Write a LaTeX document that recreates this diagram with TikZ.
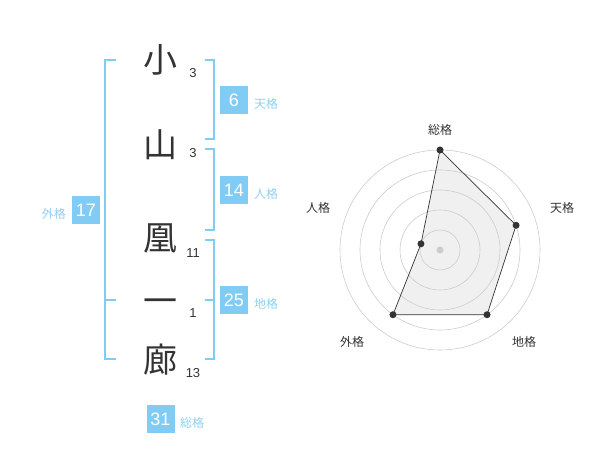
\documentclass[tikz,border=0pt]{standalone}
\usepackage{fontspec}
\setmainfont{Liberation Sans}
\newfontfamily\cjk{Noto Sans CJK JP}
\definecolor{brk}{HTML}{80CCF5}
\definecolor{lbl}{HTML}{8ED0F2}
\definecolor{ink}{HTML}{333333}
\definecolor{ring}{HTML}{CCCCCC}
\definecolor{area}{HTML}{F0F0F0}
\tikzset{
  kanji/.style={inner sep=0pt, text=ink, font=\fontsize{34}{34}\selectfont\cjk},
  strk/.style={inner sep=0pt, text=ink, font=\fontsize{13}{13}\selectfont},
  bracket/.style={draw=brk, line width=1.6pt},
  valbox/.style={fill=brk, text=white, minimum width=28pt, minimum height=28pt, inner sep=0pt, font=\fontsize{18}{18}\selectfont},
  glabel/.style={inner sep=0pt, text=lbl, font=\fontsize{12}{12}\selectfont\cjk},
  rlabel/.style={inner sep=0pt, text=ink, font=\fontsize{12}{12}\selectfont\cjk},
  ringline/.style={draw=ring, line width=0.6pt},
  dot/.style={circle, fill=ink, inner sep=0pt, minimum size=7pt},
}
\begin{document}
\begin{tikzpicture}[x=1pt,y=-1pt]
\useasboundingbox (0,0) rectangle (600,470);
% kanji
\node[kanji] (k1) at (160,60) {小};
\node[kanji] (k2) at (160,145) {山};
\node[kanji] (k3) at (160,238) {凰};
\node[kanji] (k4) at (160,306) {一};
\node[kanji] (k5) at (160,360) {廊};
% stroke counts
\node[strk] (s1) at (193,73) {3};
\node[strk] (s2) at (193,153) {3};
\node[strk] (s3) at (193,253) {11};
\node[strk] (s4) at (193,313) {1};
\node[strk] (s5) at (193,373) {13};
% brackets
\draw[bracket] (116,60) -- (105,60) -- (105,359) -- (116,359);
\draw[bracket] (105,300) -- (116,300);
\draw[bracket] (205,60) -- (214,60) -- (214,139) -- (205,139);
\draw[bracket] (205,149) -- (214,149) -- (214,230) -- (205,230);
\draw[bracket] (205,240) -- (214,240) -- (214,359) -- (205,359);
\draw[bracket] (205,300) -- (214,300);
% value boxes
\node[valbox] (b6) at (234,100) {6};
\node[glabel, anchor=west] (l6) at (254,104) {天格};
\node[valbox] (b14) at (234,190) {14};
\node[glabel, anchor=west] (l14) at (254,194) {人格};
\node[valbox] (b25) at (234,300) {25};
\node[glabel, anchor=west] (l25) at (254,304) {地格};
\node[valbox] (b17) at (86,210) {17};
\node[glabel, anchor=east] (l17) at (66,214) {外格};
\node[valbox] (b31) at (160.5,419) {31};
\node[glabel, anchor=west] (l31) at (180,423) {総格};
% radar
\begin{scope}[shift={(440,250)}, y=1pt]
  \coordinate (pS) at (90:100);
  \coordinate (pT) at (18:80);
  \coordinate (pC) at (-54:80);
  \coordinate (pG) at (-126:80);
  \coordinate (pJ) at (162:20);
  \fill[area] (pS) -- (pT) -- (pC) -- (pG) -- (pJ) -- cycle;
  \foreach \r in {20,40,60,80,100} \draw[ringline] (0,0) circle (\r);
  \fill[ring] (0,0) circle (3.5);
  \draw[ink, line width=0.7pt] (pS) -- (pT) -- (pC) -- (pG) -- (pJ) -- cycle;
  \foreach \p in {pS,pT,pC,pG,pJ} \node[dot] at (\p) {};
\end{scope}
\node[rlabel] (rS) at (440,130) {総格};
\node[rlabel] (rT) at (562,208) {天格};
\node[rlabel] (rC) at (524,342) {地格};
\node[rlabel] (rG) at (352,342) {外格};
\node[rlabel] (rJ) at (318,208) {人格};
\end{tikzpicture}
\end{document}
